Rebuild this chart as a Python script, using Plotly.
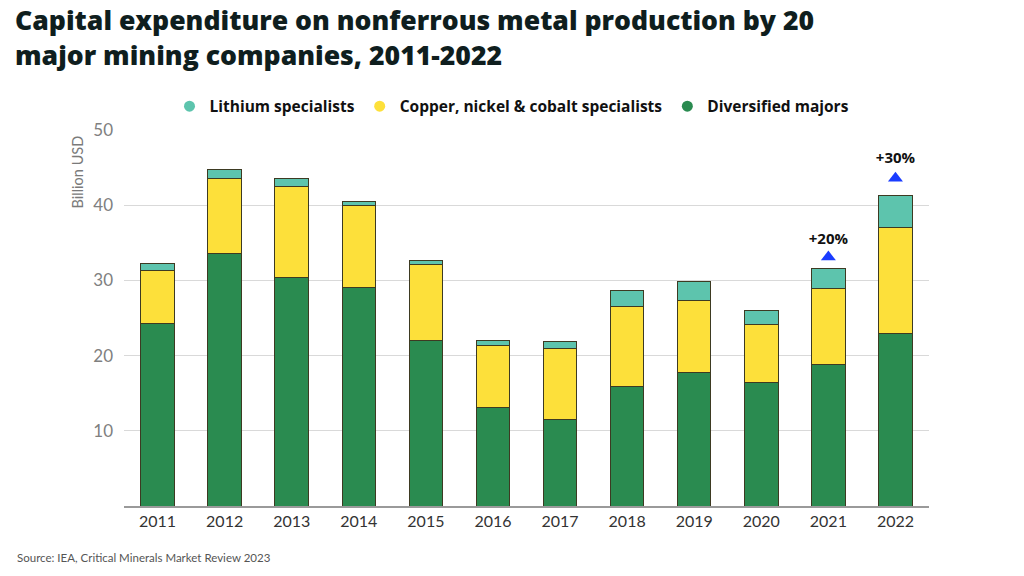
import plotly.graph_objects as go

years = ["2011", "2012", "2013", "2014", "2015", "2016", "2017", "2018", "2019", "2020", "2021", "2022"]
diversified = [24.3, 33.6, 30.4, 29.1, 22.0, 13.1, 11.5, 15.9, 17.7, 16.4, 18.8, 22.9]
copper = [7.0, 9.9, 12.1, 10.9, 10.1, 8.3, 9.4, 10.6, 9.6, 7.8, 10.1, 14.2]
lithium = [0.9, 1.2, 1.1, 0.5, 0.6, 0.6, 1.0, 2.1, 2.5, 1.8, 2.7, 4.2]

growth_years = ["2021", "2022"]
growth_labels = ["+20%", "+30%"]
growth_marker_y = [33.1, 43.6]
growth_text_y = [35.4, 46.1]

c_green = "#2a8b50"
c_yellow = "#fde03a"
c_teal = "#5dc4ad"
edge = "#3d3a22"
font_fam = "Lato, Open Sans, sans-serif"

fig = go.Figure()
for name, vals, col in [("Diversified majors", diversified, c_green),
                        ("Copper, nickel & cobalt specialists", copper, c_yellow),
                        ("Lithium specialists", lithium, c_teal)]:
    fig.add_trace(go.Bar(x=years, y=vals, name=name, marker=dict(color=col, line=dict(color=edge, width=1)),
                         width=0.5, showlegend=False))

for name, col in [("Lithium specialists", c_teal),
                  ("Copper, nickel & cobalt specialists", c_yellow),
                  ("Diversified majors", c_green)]:
    fig.add_trace(go.Scatter(x=[None], y=[None], mode="markers", name=name,
                             marker=dict(symbol="circle", size=11, color=col)))

fig.add_trace(go.Scatter(x=growth_years, y=growth_marker_y, mode="markers", showlegend=False,
                         marker=dict(symbol="triangle-up", size=13, color="#1a3cff")))
fig.add_trace(go.Scatter(x=growth_years, y=growth_text_y, mode="text", text=growth_labels, showlegend=False,
                         textposition="middle center",
                         textfont=dict(family="Open Sans, sans-serif", size=15, color="#111111", weight="bold")))

fig.update_layout(
    barmode="stack",
    width=1024, height=576,
    paper_bgcolor="white", plot_bgcolor="white",
    margin=dict(l=124, r=95, t=130, b=70, autoexpand=False),
    legend=dict(orientation="h", xref="container", x=0.5, xanchor="center", yref="container", y=0.815, yanchor="middle",
                font=dict(family="Open Sans, sans-serif", size=15.5, color="#111111", weight="bold"),
                itemsizing="trace", traceorder="normal", itemwidth=30),
    showlegend=True,
)
fig.add_annotation(xref="paper", yref="paper", x=-0.1375, y=1.345, xanchor="left", yanchor="top", align="left",
                   text="Capital expenditure on nonferrous metal production by 20<br>major mining companies, 2011-2022",
                   showarrow=False,
                   font=dict(family="Open Sans, sans-serif", size=26.6, color="#0f1e1e", weight=800))
fig.add_annotation(xref="paper", yref="paper", x=-0.058, y=0.888, xanchor="center", yanchor="middle",
                   text="Billion USD", textangle=-90, showarrow=False,
                   font=dict(family=font_fam, size=14.5, color="#7a7a7a"))
fig.update_xaxes(type="category", range=[-0.5, 11.5], showline=True, linecolor="#9a9a9a", linewidth=1.5,
                 ticks="", tickfont=dict(family=font_fam, size=16, color="#333333"), showgrid=False)
fig.update_yaxes(range=[0, 50], tickvals=[10, 20, 30, 40, 50], gridcolor="#d9d9d9", gridwidth=1,
                 zeroline=False, showline=False, ticks="", ticklabelstandoff=10,
                 tickfont=dict(family=font_fam, size=17, color="#808080"))
fig.add_annotation(xref="paper", yref="paper", x=-0.1354, y=-0.138, xanchor="left", yanchor="middle",
                   text="Source: IEA, Critical Minerals Market Review 2023", showarrow=False,
                   font=dict(family=font_fam, size=11.5, color="#555555"))

fig.write_html("out.html", config={"displayModeBar": False},
               post_script="document.body.style.margin='0';")
